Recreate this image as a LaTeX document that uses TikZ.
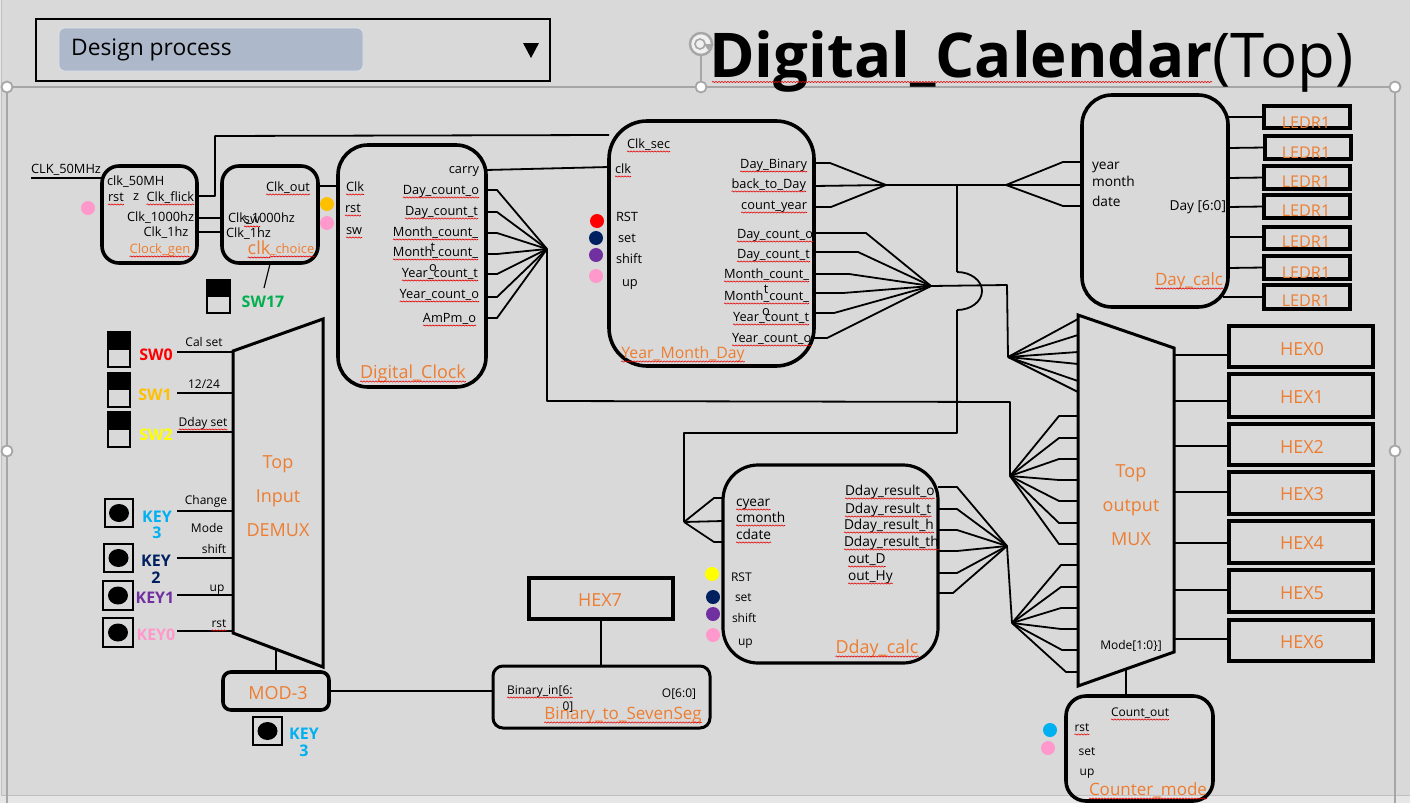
\documentclass[tikz,border=0pt]{standalone}
\usepackage{fontspec}
\setmainfont{Open Sans}
\usetikzlibrary{decorations.pathmorphing}
\definecolor{bgc}{HTML}{D9D9D9}
\definecolor{bgl}{HTML}{E6E6E6}
\definecolor{bge}{HTML}{BFBFBF}
\definecolor{org}{HTML}{ED7D31}
\definecolor{pnk}{HTML}{FF99CC}
\definecolor{nvy}{HTML}{002060}
\definecolor{prp}{HTML}{7030A0}
\definecolor{blu}{HTML}{00B0F0}
\definecolor{grn}{HTML}{00B050}
\definecolor{amb}{HTML}{FFC000}
\definecolor{ylw}{HTML}{FFFF00}
\definecolor{ddb}{HTML}{ADB9CA}
\definecolor{hdl}{HTML}{A6A6A6}
\newcounter{lbn}
\tikzset{
  txt/.style={inner sep=0pt,outer sep=0pt,text height=.72em,text depth=.22em,font=\fontsize{12.8}{15}\selectfont,text=black,yshift=-2pt},
  mid/.style={font=\fontsize{13.7}{16}\selectfont,yshift=1pt},
  sml/.style={font=\fontsize{12}{14}\selectfont},
  lft/.style={anchor=west},
  rgt/.style={anchor=east},
  ttl/.style={text=org,font=\fontsize{18}{20}\selectfont,yshift=-2pt},
  bdg/.style={font=\bfseries\fontsize{16}{18}\selectfont,yshift=-2pt},
  wire/.style={draw=black,line width=1.8pt,line join=round},
  frameline/.style={draw=hdl,line width=1.1pt},
  handle/.style={circle,draw=hdl,fill=white,line width=1.8pt,minimum size=11pt,inner sep=0pt},
  squig/.style={draw=red!90!black,line width=.6pt,decorate,decoration={snake,amplitude=.6pt,segment length=3pt}},
  box/.style={draw=black,line width=3.6pt,inner sep=0pt,outer sep=0pt},
  spot/.style={circle,inner sep=0pt,outer sep=0pt,minimum size=14pt},
  capb/.style={draw=black,line width=2.8pt,inner sep=0pt,outer sep=0pt},
}
\newcommand\lb[3][]{\stepcounter{lbn}\node[txt,#1] (L\thelbn) at (#2) {#3};}
\newcommand\lbs[3][]{\stepcounter{lbn}\node[txt,#1] (L\thelbn) at (#2) {#3};
  \draw[squig] ([yshift=-3pt]L\thelbn.base west) -- ([yshift=-3pt]L\thelbn.base east);}
% \blk[opts]{name}{x1}{y1}{x2}{y2}
\newcommand\blk[6][]{\node[box,minimum width={(#5-#3)*1pt},minimum height={(#6-#4)*1pt},#1] (#2) at ({(#3+#5)/2},{(#4+#6)/2}) {};}
\newcommand\dotn[3]{\node[spot,fill=#3] (#1) at (#2) {};}
% switch
\newcommand\swt[5]{\node[capb,minimum width={(#4-#2)*1pt},minimum height={(#5-#3)*1pt}] (#1) at ({(#2+#4)/2},{(#3+#5)/2}) {};
  \fill[black] (#1.north west) rectangle (#1.east);}
% push button
\newcommand\kbtn[5]{\node[capb,minimum width={(#4-#2)*1pt},minimum height={(#5-#3)*1pt}] (#1) at ({(#2+#4)/2},{(#3+#5)/2}) {};
  \fill[black] (#1.center) ellipse [x radius=10pt,y radius=9pt];}
\begin{document}
\begin{tikzpicture}[x=1pt,y=-1pt]
\useasboundingbox (0,0) rectangle (1410,803);
\fill[bgl] (0,0) rectangle (1410,803);
\fill[bgc] (1,0) rectangle (1410,795);
\draw[bge,line width=.9pt] (1,0) -- (1,795) -- (1410,795);
% selection frame
\coordinate (fnw) at (7,87); \coordinate (fne) at (1395,87);
\coordinate (fsw) at (7,803); \coordinate (fse) at (1395,803);
\draw[frameline] (fsw) -- (fnw) -- (fne) -- (fse);
\coordinate (rotb) at (701,87); \coordinate (rott) at (701,52);
\draw[frameline] (rotb) -- (rott);
\node[handle] (h1) at (fnw) {};
\node[handle] (h2) at (rotb) {};
\node[handle] (h3) at (fne) {};
\node[handle] (h4) at (7,451) {};
\node[handle] (h5) at (1395,451) {};
\node[circle,draw=hdl,fill=white!60!bgc,line width=2.4pt,minimum size=22pt,inner sep=0pt] (rot) at (701,44) {};
\node[circle,draw=hdl,line width=1.6pt,minimum size=10pt,inner sep=0pt] (roti) at (700,44) {};
\fill[hdl] (704,44) -- (714,44) -- (708,50) -- cycle;
% dropdown
\blk[line width=2pt]{dd}{36}{19}{550}{81}
\node[fill=ddb,draw=white!60!ddb,line width=.6pt,rounded corners=6pt,minimum width=304pt,minimum height=43pt,inner sep=0pt] (ddi) at (211,49.5) {};
\node[inner sep=0pt,font=\fontsize{22.8}{26}\selectfont,anchor=west] (ddt) at (71,50) {Design process};
\fill[black] (523,43) -- (539,43) -- (531,58) -- cycle;
% title
\node[inner sep=0pt,anchor=base west,font=\fontsize{61.7}{70}\selectfont] (title) at (709,77) {\textbf{Digital\_Calendar}(Top)};
\coordinate (tsq1) at (712,82); \coordinate (tsq2) at (1212,82);
\draw[squig] (tsq1) -- (tsq2);
% blocks
\blk[rounded corners=17pt]{cg}{102}{166}{197}{263}
\blk[rounded corners=17pt]{cc}{222}{166}{318}{263}
\blk[rounded corners=30pt]{dc}{338}{145}{486}{387}
\blk[rounded corners=38pt]{ymd}{609}{121}{814}{366}
\blk[rounded corners=30pt]{day}{1082}{95}{1228}{307}
\blk[rounded corners=35pt,line width=3.2pt]{dd2}{723}{465}{938}{663}
\blk[rounded corners=20pt]{cm}{1066}{696}{1213}{801}
\blk[rounded corners=8pt]{mod}{223}{672}{329}{710}
\blk[rounded corners=10pt,line width=3pt]{bin}{493}{666}{710}{728}
\blk{hex7}{529}{578}{673}{619}
% LEDRs
\blk{le1}{1264}{106}{1350}{128}
\blk{le2}{1265}{136}{1351}{159}
\blk{le3}{1264}{166}{1350}{189}
\blk{le4}{1264}{195}{1350}{218}
\blk{le5}{1264}{227}{1350}{249}
\blk{le6}{1264}{256}{1350}{279}
\blk{le7}{1264}{285}{1350}{309}
% HEXes
\blk{hx0}{1229}{326}{1373}{367}
\blk{hx1}{1229}{374}{1373}{417}
\blk{hx2}{1229}{424}{1373}{465}
\blk{hx3}{1229}{472}{1373}{514}
\blk{hx4}{1229}{521}{1373}{563}
\blk{hx5}{1229}{570}{1373}{612}
\blk{hx6}{1229}{620}{1373}{661}
% trapezoids
\coordinate (dmL) at (233,500); \coordinate (muxL) at (1078,500); \coordinate (muxR) at (1174,500);
\draw[black,line width=3pt,line join=miter] (233,351) -- (323,319) -- (323,667) -- (233,633) -- cycle;
\draw[black,line width=3pt,line join=miter] (1078,315) -- (1174,348) -- (1174,652) -- (1078,686) -- cycle;
% hubs
\coordinate (hubDC) at (547,249);
\coordinate (hubY1) at (886,185);
\coordinate (hubY2) at (931,286);
\coordinate (hubDay) at (1006,185);
\coordinate (hubA) at (1008,357);
\coordinate (hubB) at (1010,476);
\coordinate (hubC) at (1012,623);
\coordinate (hubD) at (1007,546);
\coordinate (hubIn) at (684,522);
\coordinate (cross) at (957,272);
\coordinate (cross2) at (957,310);
% wires: clocks
\coordinate (clkin) at (31,178);
\draw[wire] (clkin) -- (cg.west |- clkin);
\draw[wire] (cg.east |- 0,196) -- (215,196) -- (215,136) -- (ymd.west |- 0,135);
\draw[wire] (cc.east |- 0,186) -- (dc.west |- 0,186);
\draw[wire] (cg.east |- 0,218) -- (cc.west |- 0,218);
\draw[wire] (cg.east |- 0,232) -- (cc.west |- 0,232);
\coordinate (sw17top) at (264,288);
\draw[black,line width=1.2pt] (cc.south |- 0,264) -- (sw17top);
\draw[wire] (dc.east |- 0,170) -- (ymd.west |- 0,167);
% digital clock fan
\foreach \y in {190,212,233,254,274,297,318} \draw[wire] (dc.east |- 0,\y) -- (497,\y) -- (hubDC);
\draw[wire] (hubDC) -- (hubDC |- 0,401) -- (hubB |- 0,402) -- (hubB);
% YMD fan 1
\draw[wire] (ymd.east |- 0,163) -- (830,163) -- (hubY1);
\draw[wire] (ymd.east |- 0,186) -- (hubY1);
\draw[wire] (ymd.east |- 0,207) -- (831,207) -- (hubY1);
\draw[wire] (hubY1) -- (hubDay);
\draw[wire] (hubDay) -- (1063,162) -- (day.west |- 0,162);
\draw[wire] (hubDay) -- (day.west |- 0,185);
\draw[wire] (hubDay) -- (1063,206) -- (day.west |- 0,206);
% YMD fan 2
\foreach \y/\b in {233/866,252/858,274/849,293/843,313/834,338/827} \draw[wire] (ymd.east |- 0,\y) -- (\b,\y) -- (hubY2);
\draw[wire] (hubY2) -- (1007,285) -- (hubA);
% crossing bus
\draw[wire] (cross |- hubY1) -- (cross);
\draw[wire] (cross) arc[start angle=90,end angle=-90,x radius=25pt,y radius=19pt];
\draw[wire] (cross2) -- (957,433) -- (684,433) -- (hubIn);
% into Dday
\draw[wire] (hubIn) -- (714,498) -- (dd2.west |- 0,498);
\draw[wire] (hubIn) -- (dd2.west |- 0,521);
\draw[wire] (hubIn) -- (714,542) -- (dd2.west |- 0,542);
% Dday fan
\foreach \y/\b in {487/957,509/957,530/957,551/957,573/957,593/953} \draw[wire] (dd2.east |- 0,\y) -- (\b,\y) -- (hubD);
\draw[wire] (hubD) -- (hubC);
% mux fans
\foreach \y in {319,335,352,364,381,392} \draw[wire] (hubA) -- (muxL |- 0,\y);
\foreach \y in {416,438,459,480,501,523,544} \draw[wire] (hubB) -- (1059,\y) -- (muxL |- 0,\y);
\foreach \y/\b in {565/1061,587/1061,608/1061,629/1061,650/1062,672/1066} \draw[wire] (hubC) -- (\b,\y) -- (muxL |- 0,\y);
% LEDR and HEX stubs
\draw[wire] (day.east |- le1) -- (le1.west);
\draw[wire] (day.east |- 0,148) -- (le2.west);
\draw[wire] (day.east |- 0,178) -- (le3.west);
\draw[wire] (day.east |- 0,207) -- (le4.west);
\draw[wire] (day.east |- 0,237) -- (le5.west |- 0,237);
\draw[wire] (day.east |- 0,268) -- (le6.west);
\draw[wire] ([xshift=-5pt]day.east |- 0,297) -- (le7.west);
\foreach \h/\y in {hx0/355,hx1/401,hx2/446,hx3/492,hx4/543,hx5/590,hx6/639} \draw[wire] (muxR |- 0,\y) -- (\h.west |- 0,\y);
% other
\coordinate (muxB) at (1126,669);
\draw[wire] (muxB) -- (cm.north -| muxB);
\coordinate (dmB) at (276,650);
\draw[wire] (dmB) -- (mod.north -| dmB);
\draw[wire] (mod.east) -- (bin.west |- mod.east);
\draw[wire] (hex7.south) -- (bin.north -| hex7.south);
% inputs
\coordinate (inx) at (177,500);
\foreach \y in {352,393,432,511,558,595,631} \draw[wire] (inx |- 0,\y) -- (dmL |- 0,\y);
% switches and keys
\swt{sw0}{108}{332}{130}{367}
\swt{sw1}{108}{373}{130}{407}
\swt{sw2}{108}{412}{130}{447}
\swt{sw17}{207}{280}{230}{313}
\kbtn{k3}{105}{499}{133}{527}
\kbtn{k2}{104}{544}{133}{572}
\kbtn{k1}{103}{581}{133}{610}
\kbtn{k0}{103}{618}{133}{647}
\kbtn{k3b}{253}{717}{282}{745}
% dots
\dotn{d1}{88,208}{pnk}
\dotn{d2}{327,204}{amb}
\dotn{d3}{327,223}{pnk}
\dotn{d4}{597,221}{red}
\dotn{d5}{596,238}{nvy}
\dotn{d6}{596,255}{prp}
\dotn{d7}{596,276}{pnk}
\dotn{d8}{712,574}{ylw}
\dotn{d9}{713,597}{nvy}
\dotn{d10}{713,614}{prp}
\dotn{d11}{713,635}{pnk}
\dotn{d12}{1050,730}{blu}
\dotn{d13}{1048,748}{pnk}
% badges
\lb[bdg,text=red]{156,354}{SW0}
\lb[bdg,text=amb]{155,394}{SW1}
\lb[bdg,text=ylw]{156,434}{SW2}
\lb[bdg,text=grn]{263,301}{SW17}
\lb[bdg,text=blu]{157,516}{KEY}
\lb[bdg,text=blu]{157,532}{3}
\lb[bdg,text=nvy]{156,560}{KEY}
\lb[bdg,text=nvy]{156,577}{2}
\lb[bdg,text=prp]{155,597}{KEY1}
\lb[bdg,text=pnk]{156,634}{KEY0}
\lb[bdg,text=blu]{304,733}{KEY}
\lb[bdg,text=blu]{304,750}{3}
% demux labels
\lb[sml]{204,342}{Cal set}
\lb[sml]{204,384}{12/24}
\lbs[sml]{203,422}{Dday set}
\lb[sml]{206,500}{Change}
\lb[sml]{207,528}{Mode}
\lb[sml]{214,549}{shift}
\lb[sml]{217,587}{up}
\lbs[sml]{219,623}{rst}
\lb[ttl]{278,462}{Top}
\lb[ttl]{278,496}{Input}
\lb[ttl]{278,530}{DEMUX}
\lb[ttl]{278,693}{MOD-3}
% clock gen
\lb{66,169}{CLK\_50MHz}
\lb[lft]{107,181}{clk\_50MH}
\lbs[lft]{108,197}{rst}
\lb{136,196}{z}
\lbs[rgt]{194,197}{Clk\_flick}
\lb[rgt]{194,217}{Clk\_1000hz}
\lb{166,232}{Clk\_1hz}
\lbs[text=org,font=\fontsize{13}{15}\selectfont]{160,249}{Clock\_gen}
% clk choice
\lbs[rgt]{310,187}{Clk\_out}
\lb[lft]{228,218}{Clk\_1000hz}
\lbs{252,219}{sw}
\lb[lft]{226,233}{Clk\_1hz}
\lbs[text=org,font=\fontsize{18}{20}\selectfont]{259,250}{clk}
\lbs[text=org,font=\fontsize{13}{15}\selectfont]{292,249}{\_choice}
% digital clock
\lbs[lft]{346,187}{Clk}
\lbs[lft]{345,208}{rst}
\lbs[lft]{346,230}{sw}
\lb[rgt]{479,169}{carry}
\lbs[rgt]{479,190}{Day\_count\_o}
\lbs[rgt]{478,211}{Day\_count\_t}
\lbs[rgt]{478,232}{Month\_count\_}
\lb{433,247}{t}
\lbs[rgt]{478,252}{Month\_count\_}
\lb{433,267}{o}
\lbs[rgt]{478,273}{Year\_count\_t}
\lbs[rgt]{479,294}{Year\_count\_o}
\lbs[rgt]{476,318}{AmPm\_o}
\lbs[ttl]{413,372}{Digital\_Clock}
% YMD
\lbs[lft]{627,144}{Clk\_sec}
\lbs[lft]{615,169}{clk}
\lb[lft]{616,217}{RST}
\lb[lft]{618,238}{set}
\lb[lft]{616,259}{shift}
\lb[lft]{622,282}{up}
\lbs[rgt]{807,164}{Day\_Binary}
\lbs[rgt]{806,184}{back\_to\_Day}
\lbs[rgt]{807,205}{count\_year}
\lbs[lft]{737,234}{Day\_count\_o}
\lbs[lft]{737,254}{Day\_count\_t}
\lbs[lft]{724,274}{Month\_count\_}
\lb{766,289}{t}
\lbs[lft]{724,296}{Month\_count\_}
\lb{766,311}{o}
\lbs[lft]{733,317}{Year\_count\_t}
\lbs[lft]{732,338}{Year\_count\_o}
\lbs[ttl,font=\fontsize{15.8}{18}\selectfont]{683,352}{Year\_Month\_Day}
% Day calc
\lb[lft,mid]{1092,166}{year}
\lb[lft,mid]{1092,183}{month}
\lb[lft,mid]{1092,203}{date}
\lb[rgt,mid]{1226,207}{Day [6:0]}
\lbs[ttl,font=\fontsize{17}{19}\selectfont]{1189,279}{Day\_calc}
\foreach \y in {122,152,181,210,241,272,300} {\lb[ttl,font=\fontsize{16.2}{19}\selectfont]{1306,\y}{LEDR1}}
% HEX labels
\lb[ttl]{1302,349}{HEX0}
\lb[ttl]{1302,397}{HEX1}
\lb[ttl]{1302,447}{HEX2}
\lb[ttl]{1302,494}{HEX3}
\lb[ttl]{1302,543}{HEX4}
\lb[ttl]{1302,593}{HEX5}
\lb[ttl]{1302,642}{HEX6}
\lb[ttl]{600,600}{HEX7}
% mux
\lb[ttl]{1131,471}{Top}
\lb[ttl]{1131,505}{output}
\lb[ttl]{1131,539}{MUX}
\lb[sml]{1131,645}{Mode[1:0\}]}
% counter
\lbs[sml]{1140,712}{Count\_out}
\lbs[sml]{1082,727}{rst}
\lb[sml]{1087,751}{set}
\lb[sml]{1087,771}{up}
\lbs[ttl,font=\fontsize{17}{19}\selectfont]{1148,789}{Counter\_mode}
% Dday
\lbs[lft,mid]{736,503}{cyear}
\lbs[lft,mid]{736,519}{cmonth}
\lbs[lft,mid]{736,536}{cdate}
\lbs[lft,mid]{845,492}{Dday\_result\_o}
\lbs[lft,mid]{845,510}{Dday\_result\_t}
\lbs[lft,mid]{844,526}{Dday\_result\_h}
\lbs[lft,mid]{844,543}{Dday\_result\_th}
\lbs[lft,mid]{848,560}{out\_D}
\lbs[lft,mid]{848,577}{out\_Hy}
\lb[lft,sml]{731,577}{RST}
\lb[lft,sml]{735,597}{set}
\lb[lft,sml]{732,618}{shift}
\lb[lft,sml]{738,641}{up}
\lbs[ttl]{877,647}{Dday\_calc}
% binary
\lbs[lft,sml]{507,690}{Binary\_in[6:}
\lb[sml]{568,706}{0]}
\lb[sml]{679,693}{O[6:0]}
\lbs[ttl,font=\fontsize{17}{19}\selectfont]{623,713}{Binary\_to\_SevenSeg}
\end{tikzpicture}
\end{document}
